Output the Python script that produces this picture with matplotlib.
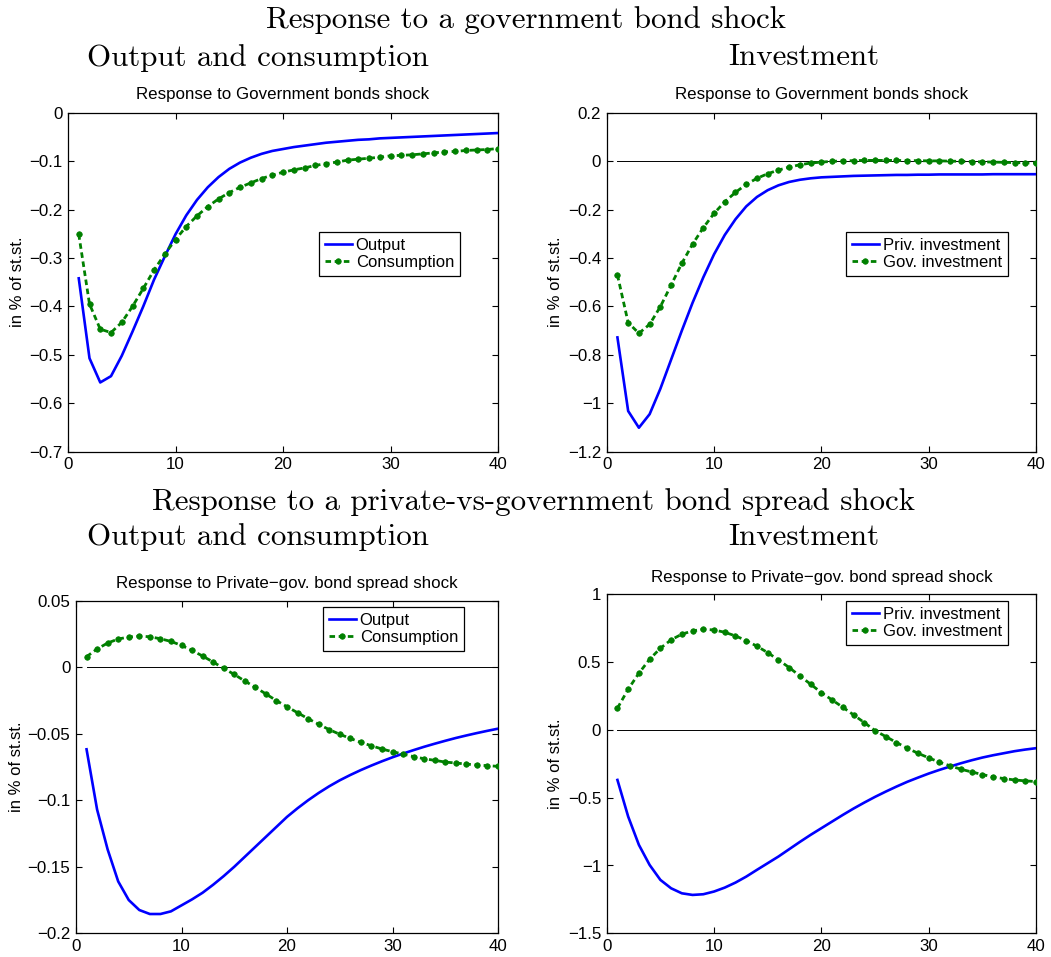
import numpy as np
import matplotlib
matplotlib.use("Agg")
import matplotlib.pyplot as plt

# ---------------- data ----------------
periods = list(range(1, 41))

gov_output = [-0.342, -0.507, -0.557, -0.544, -0.502, -0.452, -0.400, -0.345, -0.297, -0.251,
              -0.212, -0.180, -0.154, -0.133, -0.116, -0.103, -0.093, -0.085, -0.079, -0.075,
              -0.071, -0.068, -0.065, -0.062, -0.060, -0.058, -0.056, -0.055, -0.053, -0.052,
              -0.051, -0.050, -0.049, -0.048, -0.047, -0.046, -0.045, -0.044, -0.043, -0.042]
gov_consumption = [-0.251, -0.395, -0.447, -0.454, -0.433, -0.400, -0.363, -0.325, -0.292, -0.262,
                   -0.235, -0.213, -0.194, -0.178, -0.165, -0.154, -0.145, -0.136, -0.129, -0.123,
                   -0.118, -0.114, -0.109, -0.105, -0.102, -0.098, -0.096, -0.094, -0.092, -0.089,
                   -0.088, -0.087, -0.085, -0.083, -0.081, -0.080, -0.078, -0.077, -0.076, -0.074]
gov_priv_inv = [-0.728, -1.032, -1.101, -1.045, -0.940, -0.820, -0.700, -0.585, -0.480, -0.385,
                -0.305, -0.240, -0.187, -0.148, -0.120, -0.100, -0.086, -0.077, -0.071, -0.067,
                -0.065, -0.063, -0.061, -0.060, -0.059, -0.058, -0.057, -0.057, -0.056, -0.056,
                -0.055, -0.055, -0.055, -0.055, -0.055, -0.054, -0.054, -0.054, -0.054, -0.054]
gov_gov_inv = [-0.470, -0.667, -0.711, -0.674, -0.601, -0.512, -0.422, -0.343, -0.275, -0.216,
               -0.168, -0.129, -0.096, -0.071, -0.052, -0.037, -0.025, -0.015, -0.008, -0.004,
               -0.001, 0.001, 0.002, 0.003, 0.003, 0.003, 0.003, 0.002, 0.002, 0.001,
               0.001, 0.000, -0.001, -0.002, -0.003, -0.004, -0.005, -0.006, -0.007, -0.008]

spr_output = [-0.0617, -0.107, -0.137, -0.161, -0.175, -0.1825, -0.1855, -0.1855, -0.1835, -0.179,
              -0.1745, -0.1695, -0.1635, -0.157, -0.150, -0.1425, -0.135, -0.1275, -0.120, -0.1125,
              -0.106, -0.100, -0.0945, -0.0895, -0.085, -0.081, -0.0773, -0.0739, -0.0707, -0.0677,
              -0.0649, -0.0623, -0.0598, -0.0575, -0.0553, -0.0532, -0.0513, -0.0495, -0.0478, -0.0462]
spr_consumption = [0.0079, 0.0137, 0.0182, 0.0212, 0.0227, 0.0234, 0.0229, 0.0214, 0.0194, 0.0164,
                   0.0126, 0.0084, 0.0039, -0.0009, -0.0054, -0.0104, -0.0151, -0.0201, -0.0251, -0.0297,
                   -0.0342, -0.0387, -0.0429, -0.0469, -0.0504, -0.0535, -0.0565, -0.0590, -0.0615, -0.0635,
                   -0.0653, -0.0672, -0.0688, -0.0700, -0.0713, -0.0720, -0.0728, -0.0735, -0.0740, -0.0745]
spr_priv_inv = [-0.369, -0.639, -0.848, -0.996, -1.106, -1.168, -1.205, -1.217, -1.212, -1.192,
                -1.163, -1.126, -1.082, -1.032, -0.983, -0.934, -0.880, -0.826, -0.774, -0.725,
                -0.676, -0.627, -0.580, -0.536, -0.494, -0.455, -0.418, -0.383, -0.352, -0.322,
                -0.295, -0.270, -0.246, -0.224, -0.204, -0.187, -0.172, -0.157, -0.145, -0.135]
spr_gov_inv = [0.160, 0.300, 0.418, 0.521, 0.602, 0.664, 0.706, 0.730, 0.742, 0.737,
               0.720, 0.693, 0.659, 0.617, 0.570, 0.516, 0.460, 0.398, 0.337, 0.275,
               0.221, 0.167, 0.111, 0.054, -0.005, -0.049, -0.093, -0.135, -0.172, -0.206,
               -0.238, -0.265, -0.290, -0.310, -0.329, -0.347, -0.359, -0.369, -0.376, -0.381]

xticks = [0, 10, 20, 30, 40]
yticks_tl = [-0.7, -0.6, -0.5, -0.4, -0.3, -0.2, -0.1, 0]
yticks_tr = [-1.2, -1, -0.8, -0.6, -0.4, -0.2, 0, 0.2]
yticks_bl = [-0.2, -0.15, -0.1, -0.05, 0, 0.05]
yticks_br = [-1.5, -1, -0.5, 0, 0.5, 1]

title_gov = "Response to Government bonds shock"
title_spr = "Response to Private\u2212gov. bond spread shock"
ylabel = "in % of st.st."
labels_oc = ["Output", "Consumption"]
labels_inv = ["Priv. investment", "Gov. investment"]

# ---------------- style ----------------
W, H = 1051, 957
plt.rcParams['font.family'] = ['Liberation Sans', 'DejaVu Sans']
plt.rcParams['font.size'] = 12
plt.rcParams['lines.scale_dashes'] = False

fig = plt.figure(figsize=(W / 100, H / 100), dpi=100)


def fx(px):
    return px / W


def fy(py):
    return 1 - py / H


def make_ax(l, r, t, b):
    return fig.add_axes([fx(l), fy(b), fx(r) - fx(l), fy(t) - fy(b)])


def fmt(v):
    s = "%g" % v
    return s.replace("-", "\u2212")


BLUE = "#0000ff"
GREEN = "#008000"


def draw(ax, y1, y2, labels, yticks, title, title_pad, leg_xy, ylab_x):
    ax.plot([periods[0], periods[-1]], [0, 0], color="black", lw=0.7, zorder=1)
    ax.plot(periods, y1, color=BLUE, lw=1.9, label=labels[0], zorder=3)
    ax.plot(periods, y2, color=GREEN, lw=2.0, ls=(0, (4.0, 2.6)), marker="o", ms=4.0,
            mec=GREEN, mfc=GREEN, mew=0.5, label=labels[1], zorder=3)
    ax.set_xlim(xticks[0], xticks[-1])
    ax.set_ylim(yticks[0], yticks[-1])
    ax.set_xticks(xticks)
    ax.set_xticklabels([fmt(v) for v in xticks])
    ax.set_yticks(yticks)
    ax.set_yticklabels([fmt(v) for v in yticks])
    ax.tick_params(direction="in", top=True, right=True, length=4, width=0.8,
                   labelsize=12.2, pad=4)
    for s in ax.spines.values():
        s.set_linewidth(0.9)
    ax.set_title(title, fontsize=12.2, pad=title_pad)
    bb = ax.get_position()
    xa = (fx(ylab_x) - bb.x0) / bb.width
    ax.set_ylabel(ylabel, fontsize=12, va="center")
    ax.yaxis.set_label_coords(xa, 0.5)
    leg = ax.legend(loc="upper left", bbox_to_anchor=(fx(leg_xy[0]), fy(leg_xy[1])),
                    bbox_transform=fig.transFigure, borderaxespad=0, fontsize=12,
                    handlelength=1.6, handletextpad=0.25, borderpad=0.35, labelspacing=0.12,
                    fancybox=False, framealpha=1, edgecolor="black")
    leg.get_frame().set_linewidth(0.9)


ax1 = make_ax(68, 498, 112.7, 451.7)
ax2 = make_ax(606.7, 1036, 112.7, 451.7)
ax3 = make_ax(76, 498, 600.7, 933.3)
ax4 = make_ax(606.7, 1036, 594.3, 933.3)

draw(ax1, gov_output, gov_consumption, labels_oc, yticks_tl, title_gov, 9.8, (319, 232), 17.5)
draw(ax2, gov_priv_inv, gov_gov_inv, labels_inv, yticks_tr, title_gov, 9.8, (846, 232), 555)
draw(ax3, spr_output, spr_consumption, labels_oc, yticks_bl, title_spr, 9.1, (323, 607), 17)
draw(ax4, spr_priv_inv, spr_gov_inv, labels_inv, yticks_br, title_spr, 9.1, (846, 601), 555)

# headings (LaTeX-like serif)
HF = dict(family="cmr10", fontsize=22.3, va="baseline")
fig.text(fx(526), fy(28), "Response to a government bond shock", ha="center", **HF)
fig.text(fx(87), fy(66), "Output and consumption", ha="left", **HF)
fig.text(fx(728), fy(65), "Investment", ha="left", **HF)
fig.text(fx(533), fy(510), "Response to a private-vs-government bond spread shock", ha="center", **HF)
fig.text(fx(87), fy(545), "Output and consumption", ha="left", **HF)
fig.text(fx(728), fy(545), "Investment", ha="left", **HF)

fig.savefig("out.png", dpi=100)
